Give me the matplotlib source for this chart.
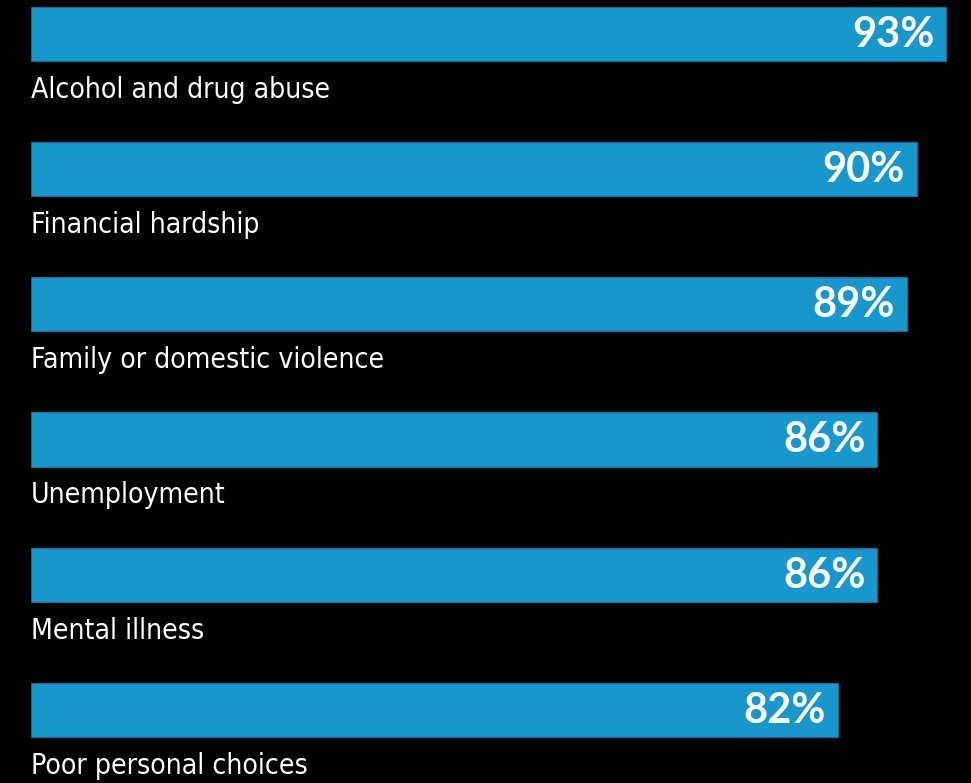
import matplotlib
matplotlib.use("Agg")
import matplotlib.pyplot as plt

causes = [
    "Alcohol and drug abuse",
    "Financial hardship",
    "Family or domestic violence",
    "Unemployment",
    "Mental illness",
    "Poor personal choices",
]
percents = [93, 90, 89, 86, 86, 82]

bar_color = "#1797cc"

fig = plt.figure(figsize=(9.71, 7.83), dpi=100, facecolor="black")
ax = fig.add_axes([31 / 971, 0, 1 - 31 / 971, 1])
ax.set_facecolor("black")

ypos = list(range(len(causes)))
ax.barh(ypos, percents, height=0.4, color=bar_color, edgecolor="#0d6f99", linewidth=0.8)

for y, name, pct in zip(ypos, causes, percents):
    # category label sits under its bar
    ax.text(0, y + 0.473, name, color="white", fontsize=20.3,
            family=["DejaVu Sans"], fontstretch="condensed",
            ha="left", va="baseline")
    # value inside the right end of the bar
    ax.text(pct - 1.2, y + 0.096, f"{pct}%", color="white", fontsize=30,
            family=["Lato", "DejaVu Sans"], fontweight="bold",
            ha="right", va="baseline")

ax.set_xlim(0, (971 - 31) / 9.84)
ax.set_ylim(5.54, -0.25)
ax.axis("off")

fig.savefig("out.png", dpi=100, facecolor="black")
